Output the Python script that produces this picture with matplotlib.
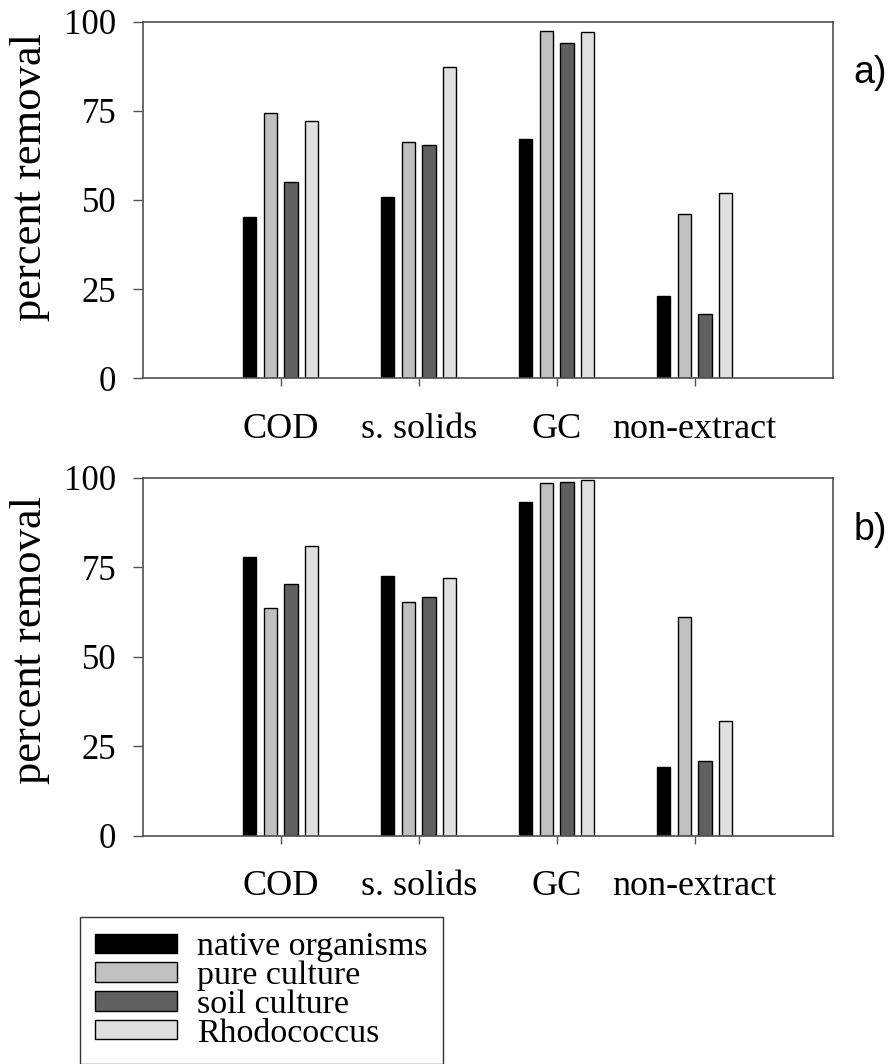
import matplotlib
matplotlib.use("Agg")
import matplotlib.pyplot as plt
from matplotlib.patches import Patch
import numpy as np

categories = ["COD", "s. solids", "GC", "non-extract"]
series_names = ["native organisms", "pure culture", "soil culture", "Rhodococcus"]
series_colors = ["#000000", "#c0c0c0", "#606060", "#e0e0e0"]

# panel a)
native_a = [45.3, 50.9, 67.0, 23.1]
pure_a = [74.5, 66.3, 97.4, 46.0]
soil_a = [55.1, 65.4, 93.9, 17.9]
rhodo_a = [72.1, 87.3, 97.0, 52.0]

# panel b)
native_b = [77.8, 72.6, 93.3, 19.1]
pure_b = [63.7, 65.2, 98.6, 61.0]
soil_b = [70.2, 66.6, 98.7, 20.9]
rhodo_b = [80.8, 72.0, 99.4, 32.0]

yticks = [0, 25, 50, 75, 100]

serif = ["Liberation Serif", "DejaVu Serif"]
sans = ["Liberation Sans", "DejaVu Sans"]
FS_TICK = 25
FS_CAT = 26
FS_YLAB = 32
FS_TAG = 27
FS_LEG = 24.5

fig = plt.figure(figsize=(8.94, 10.64), dpi=100)
spine_color = "#505050"


def draw_panel(ax, data, tag, ylab_y):
    x = np.arange(1, len(categories) + 1)
    width = 0.095
    step = 0.15
    offsets = [-1.5 * step, -0.5 * step, 0.5 * step, 1.5 * step]
    for vals, col, off in zip(data, series_colors, offsets):
        ax.bar(x + off, vals, width=width, color=col, edgecolor="black",
               linewidth=1.0, zorder=2)
    ax.set_xlim(0, 5)
    ax.set_ylim(0, 100)
    ax.set_yticks(yticks)
    ax.set_yticklabels([str(t) for t in yticks], fontfamily=serif, fontsize=FS_TICK)
    ax.set_xticks(x)
    ax.set_xticklabels(categories, fontfamily=serif, fontsize=FS_CAT)
    ax.tick_params(axis="y", direction="out", length=7, width=1.0,
                   color=spine_color, pad=12)
    ax.tick_params(axis="x", direction="out", length=6, width=1.0,
                   color=spine_color, pad=19)
    for s in ax.spines.values():
        s.set_color(spine_color)
        s.set_linewidth(1.2)
    ax.set_ylabel("percent removal", fontfamily=serif, fontsize=FS_YLAB)
    ax.yaxis.set_label_coords(-0.134, ylab_y)
    ax.text(1.055, 0.855, tag, transform=ax.transAxes, fontfamily=sans,
            fontsize=FS_TAG, ha="center", va="center")


ax_a = fig.add_axes([0.1596, 0.6445, 0.7718, 0.3351])
draw_panel(ax_a, [native_a, pure_a, soil_a, rhodo_a], "a)", 0.565)

ax_b = fig.add_axes([0.1596, 0.2146, 0.7718, 0.3364])
draw_panel(ax_b, [native_b, pure_b, soil_b, rhodo_b], "b)", 0.548)

handles = [Patch(facecolor=c, edgecolor="black", linewidth=1.0) for c in series_colors]
leg = fig.legend(handles, series_names, loc="upper left",
                 bbox_to_anchor=(0.0895, 0.1385), frameon=True, fancybox=False,
                 prop={"family": serif, "size": FS_LEG}, handlelength=2.4,
                 handleheight=0.5, labelspacing=-0.05, handletextpad=0.6,
                 borderpad=0.45, borderaxespad=0)
leg.get_frame().set_edgecolor("black")
leg.get_frame().set_linewidth(1.0)

fig.savefig("out.png", dpi=100)
